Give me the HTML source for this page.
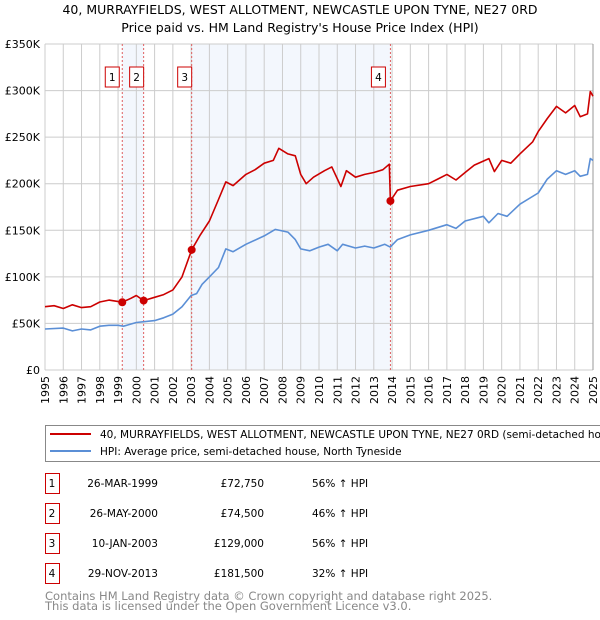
<!DOCTYPE html>
<html><head><meta charset="utf-8"><style>
body{margin:0;width:600px;height:620px;background:#fff;overflow:hidden;font-family:"DejaVu Sans","Liberation Sans",sans-serif}
svg{position:absolute;left:0;top:0}
</style></head><body>
<svg id="c" width="600" height="620" font-family="DejaVu Sans, Liberation Sans, sans-serif">
<text x="300" y="14" text-anchor="middle" font-size="12.5" fill="#000">40, MURRAYFIELDS, WEST ALLOTMENT, NEWCASTLE UPON TYNE, NE27 0RD</text>
<text x="300" y="32" text-anchor="middle" font-size="12.5" fill="#000">Price paid vs. HM Land Registry's House Price Index (HPI)</text>
<g id="plot"></g>
<rect x="45.5" y="425.5" width="570" height="36" fill="#fff" stroke="#888"/>
<line x1="50" y1="434" x2="91" y2="434" stroke="#cc0000" stroke-width="2"/>
<text x="100" y="438" font-size="10.5">40, MURRAYFIELDS, WEST ALLOTMENT, NEWCASTLE UPON TYNE, NE27 0RD (semi-detached house)</text>
<line x1="50" y1="451" x2="91" y2="451" stroke="#5b8fd6" stroke-width="2"/>
<text x="100" y="455" font-size="10.5">HPI: Average price, semi-detached house, North Tyneside</text>
<g id="table" font-size="10.5"></g>
<text x="45" y="600" font-size="11.5" fill="#888">Contains HM Land Registry data © Crown copyright and database right 2025.</text>
<text x="45" y="610" font-size="11.5" fill="#888">This data is licensed under the Open Government Licence v3.0.</text>
</svg>
<script>
const yTicks=[0,50,100,150,200,250,300,350];
const yTickLabels=["£0","£50K","£100K","£150K","£200K","£250K","£300K","£350K"];
const years=[1995,1996,1997,1998,1999,2000,2001,2002,2003,2004,2005,2006,2007,2008,2009,2010,2011,2012,2013,2014,2015,2016,2017,2018,2019,2020,2021,2022,2023,2024,2025];
const saleDates=[1999.23,2000.4,2003.03,2013.91];
const salePrices=[72.75,74.5,129,181.5];
const saleLabels=["1","2","3","4"];
const saleDateText=["26-MAR-1999","26-MAY-2000","10-JAN-2003","29-NOV-2013"];
const salePriceText=["£72,750","£74,500","£129,000","£181,500"];
const saleHpiText=["56% ↑ HPI","46% ↑ HPI","56% ↑ HPI","32% ↑ HPI"];
const redT=[1995,1995.5,1996,1996.5,1997,1997.5,1998,1998.5,1999.23,1999.7,2000,2000.4,2001,2001.5,2002,2002.5,2003.03,2003.5,2004,2004.5,2004.9,2005.3,2006,2006.5,2007,2007.5,2007.8,2008.3,2008.7,2009,2009.3,2009.7,2010.3,2010.7,2011.2,2011.5,2012,2012.5,2013,2013.5,2013.85,2013.91,2014.3,2015,2016,2016.5,2017,2017.5,2018,2018.5,2019.3,2019.6,2020,2020.5,2021,2021.7,2022,2022.5,2023,2023.5,2024,2024.3,2024.7,2024.85,2025];
const redV=[68,69,66,70,67,68,73,75,72.75,77,80,74.5,78,81,86,100,129,145,160,183,202,198,210,215,222,225,238,232,230,210,200,207,214,218,197,214,207,210,212,215,221,181.5,193,197,200,205,210,204,212,220,227,213,225,222,232,245,256,270,283,276,284,272,275,299,294];
const hpiT=[1995,1996,1996.5,1997,1997.5,1998,1998.5,1999,1999.3,2000,2001,2001.5,2002,2002.5,2003,2003.3,2003.6,2004,2004.5,2004.9,2005.3,2006,2007,2007.6,2008.3,2008.7,2009,2009.5,2010,2010.5,2011,2011.3,2012,2012.5,2013,2013.6,2013.9,2014.3,2015,2016,2017,2017.5,2018,2019,2019.3,2019.8,2020.3,2021,2022,2022.5,2023,2023.5,2024,2024.3,2024.7,2024.85,2025];
const hpiV=[44,45,42,44,43,47,48,48,47,51,53,56,60,68,80,82,92,100,110,130,127,135,144,151,148,140,130,128,132,135,128,135,131,133,131,135,132,140,145,150,156,152,160,165,158,168,165,178,190,205,214,210,214,208,210,227,225];
const NS="http://www.w3.org/2000/svg";
const X0=45,X1=593,Y0=370,Y1=44;
const xs=t=>X0+(t-1995)/(2025-1995)*(X1-X0);
const ys=v=>Y0-v/350*(Y0-Y1);
const plot=document.getElementById('plot');
function mk(tag,a,p){const e=document.createElementNS(NS,tag);for(const k in a)e.setAttribute(k,a[k]);(p||plot).appendChild(e);return e;}
let e;
e=mk('rect',{x:xs(saleDates[0]),y:Y1,width:xs(saleDates[1])-xs(saleDates[0]),height:Y0-Y1,fill:'#eef3fc',opacity:0.7});


e=mk('rect',{x:xs(saleDates[2]),y:Y1,width:xs(saleDates[3])-xs(saleDates[2]),height:Y0-Y1,fill:'#eef3fc',opacity:0.7});


years.forEach(y=>{e=mk('line',{x1:xs(y),x2:xs(y),y1:Y1,y2:Y0,stroke:'#ccc','stroke-width':1});


e=mk('text',{x:0,y:0,'font-size':11,'text-anchor':'end',transform:`translate(${xs(y)+4},${Y0+6}) rotate(-90)`});e.textContent=y;

});
yTicks.forEach((v,i)=>{e=mk('line',{x1:X0,x2:X1,y1:ys(v),y2:ys(v),stroke:'#ccc','stroke-width':1});


e=mk('text',{x:X0-5,y:ys(v)+4,'font-size':11,'text-anchor':'end'});e.textContent=yTickLabels[i];

});
e=mk('line',{x1:X1,x2:X1,y1:Y1,y2:Y0,stroke:'#999'});


saleDates.forEach((d,i)=>{e=mk('line',{x1:xs(d),x2:xs(d),y1:Y1,y2:Y0,stroke:'#e06060','stroke-dasharray':'2,2','stroke-width':1});


const bx=xs(d)-(i==0?10:i==3?12:7);
e=mk('rect',{x:bx-7,y:67,width:14,height:20,fill:'#fff',stroke:'#cc0000'});


e=mk('text',{x:bx,y:81,'font-size':10.5,'text-anchor':'middle'});e.textContent=saleLabels[i];

});
function path(T,V,col,name){e=mk('path',{d:T.map((t,i)=>(i?'L':'M')+xs(t).toFixed(1)+','+ys(V[i]).toFixed(1)).join(''),fill:'none',stroke:col,'stroke-width':1.6,'stroke-linejoin':'round'});

}
path(hpiT,hpiV,'#5b8fd6','hpi-line');
path(redT,redV,'#cc0000','property-price-line');
saleDates.forEach((d,i)=>{e=mk('circle',{cx:xs(d),cy:ys(salePrices[i]),r:4,fill:'#cc0000'});

});
const tb=document.getElementById('table');
saleDates.forEach((d,i)=>{const cy=483+i*30;
e=mk('rect',{x:45.5,y:cy-9.5,width:14,height:20,fill:'#fff',stroke:'#cc0000'},tb);


const cols=[[52,saleLabels[i],'middle'],[158,saleDateText[i],'end'],[264,salePriceText[i],'end'],[312,saleHpiText[i],'start']];
cols.forEach(c=>{e=mk('text',{x:c[0],y:cy+4,'text-anchor':c[2]},tb);e.textContent=c[1];

});});
</script>
</body></html>
